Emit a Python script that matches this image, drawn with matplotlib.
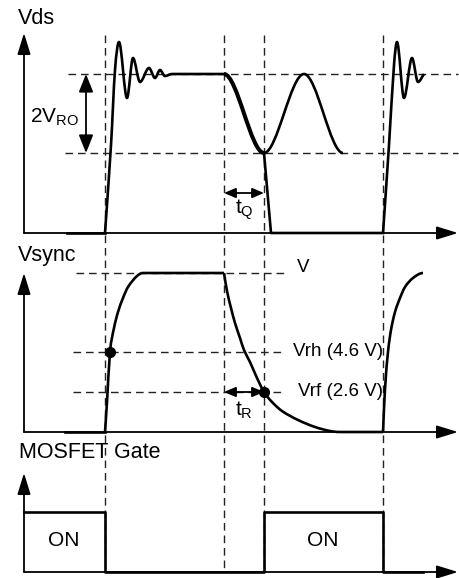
import numpy as np
import matplotlib
matplotlib.use('Agg')
import matplotlib.pyplot as plt
from matplotlib.path import Path
from matplotlib.patches import PathPatch

plt.rcParams['font.family'] = ['Liberation Sans', 'DejaVu Sans']
plt.rcParams['mathtext.fontset'] = 'custom'
plt.rcParams['mathtext.rm'] = 'Liberation Sans'
plt.rcParams['mathtext.it'] = 'Liberation Sans'
plt.rcParams['mathtext.default'] = 'regular'

# shared timing marks (x)
t_marks = [105, 224, 264, 383]

# Vds panel
vds_base, vds_top, vds_low = 233, 74, 153
vds_ring1_x = [105, 111, 115, 119, 127, 133, 140, 149, 155, 160, 165, 172, 224]
vds_ring1_y = [233, 145, 70, 42, 98, 58, 82, 68, 78, 70, 76, 74, 74]
vds_fall_x = [224, 264]
vds_fall_y = [74, 153]
vds_res_x = [264, 304, 343]
vds_res_y = [153, 74, 153]
vds_off_x = [264, 271, 383]
vds_off_y = [153, 233, 233]
vds_ring2_x = [383, 389, 394, 397, 404, 412, 418, 424]
vds_ring2_y = [233, 145, 65, 42, 98, 58, 82, 74]

# Vsync panel
vs_base, vs_V, vs_rh, vs_rf = 432, 273, 352, 392
vs_rise1_x = [105, 107, 110, 114, 118, 123, 128, 137, 143, 224]
vs_rise1_y = [432, 402, 352, 328, 312, 298, 287, 276, 273, 273]
vs_fall_x = [224, 227, 231, 235, 240, 244, 250, 257, 264, 272, 282, 298, 315, 330, 340, 383]
vs_fall_y = [273, 291, 308, 323, 338, 350, 362, 378, 392, 402, 411, 420, 427, 431, 432, 432]
vs_rise2_x = [383, 385, 388, 391, 395, 400, 405, 413, 423]
vs_rise2_y = [432, 389, 352, 330, 312, 298, 287, 278, 273]
vs_dots_x = [110, 264]
vs_dots_y = [352, 392]

# MOSFET gate panel
g_base, g_on = 572, 512
gate_x = [24, 105, 105, 264, 264, 383, 383, 423]
gate_y = [g_on, g_on, g_base, g_base, g_on, g_on, g_base, g_base]

axis_x = 24
arrow_end = 458


def smooth_path(xs, ys, flat_ends=(False, False)):
    xs = np.asarray(xs, float)
    ys = np.asarray(ys, float)
    n = len(xs)
    m = np.zeros(n)
    for i in range(n):
        if i == 0:
            m[i] = 0 if flat_ends[0] else (ys[1] - ys[0]) / (xs[1] - xs[0])
        elif i == n - 1:
            m[i] = 0 if flat_ends[1] else (ys[-1] - ys[-2]) / (xs[-1] - xs[-2])
        elif (ys[i] - ys[i - 1]) * (ys[i + 1] - ys[i]) <= 0:
            m[i] = 0
        else:
            m[i] = (ys[i + 1] - ys[i - 1]) / (xs[i + 1] - xs[i - 1])
    verts = [(xs[0], ys[0])]
    codes = [Path.MOVETO]
    for i in range(n - 1):
        h = xs[i + 1] - xs[i]
        verts += [(xs[i] + h / 3, ys[i] + m[i] * h / 3),
                  (xs[i + 1] - h / 3, ys[i + 1] - m[i + 1] * h / 3),
                  (xs[i + 1], ys[i + 1])]
        codes += [Path.CURVE4] * 3
    return Path(verts, codes)


def curve(ax, xs, ys, lw=1.9, flat_ends=(False, False)):
    ax.add_patch(PathPatch(smooth_path(xs, ys, flat_ends), fill=False,
                           lw=lw, ec='black', capstyle='butt', joinstyle='round', zorder=4))


def arrow(ax, tail, tip, style, lw=1.3):
    ax.annotate('', xy=tip, xytext=tail,
                arrowprops=dict(arrowstyle=style, lw=lw, color='black',
                                shrinkA=0, shrinkB=0, mutation_scale=20),
                zorder=5)


fig = plt.figure(figsize=(4.6, 5.78), dpi=100)
ax = fig.add_axes([0, 0, 1, 1])
ax.set_xlim(0, 460)
ax.set_ylim(578, 0)
ax.axis('off')

dash = dict(color='#222222', lw=1.0, dashes=(5.5, 3.5), zorder=2)

# vertical timing guides
for x in t_marks:
    ax.plot([x, x], [35, g_base], **dash)

# horizontal level guides
ax.plot([68, arrow_end], [vds_top, vds_top], **dash)
ax.plot([65, arrow_end], [vds_low, vds_low], **dash)
ax.plot([76, 287], [vs_V, vs_V], **dash)
ax.plot([73, 282], [vs_rh, vs_rh], **dash)
ax.plot([73, 282], [vs_rf, vs_rf], **dash)

# axes with arrows
ax_head = '-|>,head_length=0.65,head_width=0.2'
for base, top in [(vds_base, 33), (vs_base, 273), (g_base, 473)]:
    arrow(ax, (axis_x, base), (axis_x, top), ax_head)
    arrow(ax, (axis_x, base), (arrow_end, base), ax_head)

# Vds trace
ax.plot([67, 105], [vds_base, vds_base], color='black', lw=1.9, zorder=4)
curve(ax, vds_ring1_x, vds_ring1_y, flat_ends=(False, True))
curve(ax, vds_fall_x, vds_fall_y, lw=2.9, flat_ends=(True, True))
curve(ax, vds_res_x, vds_res_y, flat_ends=(True, True))
ax.plot(vds_off_x, vds_off_y, color='black', lw=1.9, zorder=4)
curve(ax, vds_ring2_x, vds_ring2_y)

# Vsync trace
ax.plot([65, 105], [vs_base, vs_base], color='black', lw=1.9, zorder=4)
curve(ax, vs_rise1_x, vs_rise1_y, flat_ends=(False, True))
curve(ax, vs_fall_x, vs_fall_y, flat_ends=(False, True))
curve(ax, vs_rise2_x, vs_rise2_y, flat_ends=(False, True))
ax.plot(vs_dots_x, vs_dots_y, 'o', color='black', ms=7, zorder=6)

# gate trace
ax.plot(gate_x, gate_y, color='black', lw=1.9, zorder=4)

# annotation arrows
arrow(ax, (86, vds_low), (86, vds_top), '<|-|>,head_length=0.55,head_width=0.22')
arrow(ax, (224, 193), (264, 193), '<|-|>,head_length=0.35,head_width=0.15')
arrow(ax, (224, vs_rf), (264, vs_rf), '<|-|>,head_length=0.35,head_width=0.15')

# labels
big = 15.5
ax.text(18, 18, 'Vds', fontsize=big, ha='left', va='center')
ax.text(18, 255, 'Vsync', fontsize=big, ha='left', va='center')
ax.text(19, 453, 'MOSFET Gate', fontsize=big, ha='left', va='center')
ax.text(30, 117, '2V$_{RO}$', fontsize=15, ha='left', va='center')
ax.text(235, 210, 't$_{Q}$', fontsize=15, ha='left', va='center')
ax.text(235, 410, 't$_{R}$', fontsize=15, ha='left', va='center')
ax.text(297, 267, 'V', fontsize=13.5, ha='left', va='center')
ax.text(383, 352, 'Vrh (4.6 V)', fontsize=13.5, ha='right', va='center')
ax.text(383, 392, 'Vrf (2.6 V)', fontsize=13.5, ha='right', va='center')
ax.text(64, 541, 'ON', fontsize=15, ha='center', va='center')
ax.text(323, 541, 'ON', fontsize=15, ha='center', va='center')

fig.savefig('out.png', dpi=100)
